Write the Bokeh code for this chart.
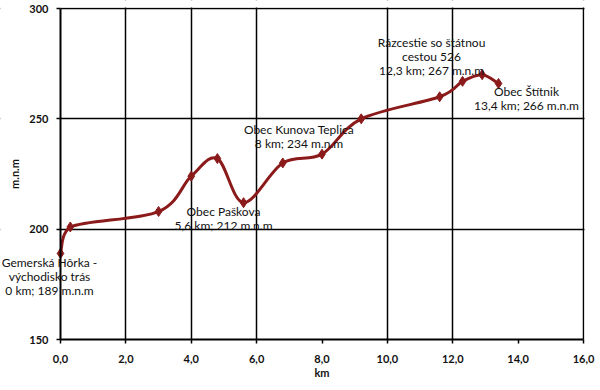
from bokeh.plotting import figure
from bokeh.models import Range1d, Label, FixedTicker, CustomJSTickFormatter, BoxAnnotation
from bokeh.embed import file_html
from bokeh.resources import INLINE

# ---- data ----
km = [0.0, 0.3, 3.0, 4.0, 4.8, 5.6, 6.8, 8.0, 9.2, 11.6, 12.3, 12.9, 13.4]
alt = [189, 201, 208, 224, 232, 212, 230, 234, 250, 260, 267, 270, 266]
x_ticks = [0, 2, 4, 6, 8, 10, 12, 14, 16]
y_ticks = [150, 200, 250, 300]

# annotations: (point index, lines)
notes = [
    (0, ["Gemerská Hôrka -", "východisko trás", "0 km; 189 m.n.m"]),
    (5, ["Obec Paškova", "5,6 km; 212 m.n.m"]),
    (7, ["Obec Kunova Teplica", "8 km; 234 m.n.m"]),
    (10, ["Rázcestie so štátnou", "cestou 526", "12,3 km; 267 m.n.m"]),
    (12, ["Obec Štítnik", "13,4 km; 266 m.n.m"]),
]
# pixel offsets of the first line's centre relative to the point
note_style = {0: (-11, -9), 5: (-20, -9), 7: (-23, 25), 10: (-31, 39), 12: (28, -8)}
LINE_H = 14

FONT = "Lato"
LINE_COLOR = "#8b1a1a"

# layout: plot area 523 x 331 px for 0..16 km, 150..300 m. The frame covers the whole
# figure (so nothing is clipped); the axes are drawn at fixed positions inside it.
W, H = 598, 388
PAD_L, PAD_R, PAD_T, PAD_B = 60, W - 60 - 523, 8, H - 8 - 331
PX_KM = 523 / 16
PX_M = 331 / 150
x_lo, x_hi = min(x_ticks), max(x_ticks)
y_lo, y_hi = min(y_ticks), max(y_ticks)

p = figure(frame_width=W, frame_height=H, output_backend="svg", toolbar_location=None,
           x_range=Range1d(x_lo - PAD_L / PX_KM, x_hi + PAD_R / PX_KM),
           y_range=Range1d(y_lo - PAD_B / PX_M, y_hi + PAD_T / PX_M),
           min_border=0, min_border_left=0, min_border_right=0,
           min_border_top=0, min_border_bottom=0)
p.background_fill_color = "white"
p.border_fill_color = "white"
p.outline_line_color = None

# grids (the reference shows vertical lines only at these positions)
p.xgrid.ticker = FixedTicker(ticks=[2, 4, 6, 10, 12, 16])
p.ygrid.ticker = FixedTicker(ticks=[200, 250, 300])
for g in (p.xgrid, p.ygrid):
    g.grid_line_color = "black"
    g.grid_line_width = 1.5
# keep the grid lines inside the plot area
for kw in (dict(right=x_lo), dict(left=x_hi + 1 / PX_KM),
           dict(top=y_lo), dict(bottom=y_hi + 1 / PX_M)):
    p.add_layout(BoxAnnotation(fill_color="white", fill_alpha=1, line_alpha=0,
                               level="underlay", **kw))

fmt = CustomJSTickFormatter(code="return tick.toFixed(1).replace('.', ',');")
p.xaxis.ticker = FixedTicker(ticks=x_ticks)
p.xaxis.formatter = fmt
p.xaxis.bounds = (x_lo, x_hi)
p.xaxis.fixed_location = y_lo
p.yaxis.ticker = FixedTicker(ticks=y_ticks)
p.yaxis.bounds = (y_lo, y_hi)
p.yaxis.fixed_location = x_lo
for ax in (p.xaxis[0], p.yaxis[0]):
    ax.axis_line_width = 2
    ax.axis_line_color = "black"
    ax.major_tick_line_color = "black"
    ax.major_tick_line_width = 1.5
    ax.major_tick_out = 4
    ax.major_tick_in = 0
    ax.minor_tick_line_color = None
    ax.major_label_text_font = FONT
    ax.major_label_text_font_size = "11px"
    ax.major_label_text_font_style = "bold"
    ax.major_label_text_color = "#111111"
    ax.axis_label_text_font = FONT
    ax.axis_label_text_font_size = "11px"
    ax.axis_label_text_font_style = "bold"
    ax.axis_label_text_color = "#111111"
p.xaxis.axis_label = "km"
p.yaxis.axis_label = "m.n.m"
p.xaxis.major_label_standoff = 11
p.xaxis.axis_label_standoff = 0
p.yaxis.major_label_standoff = 8
p.yaxis.axis_label_standoff = 5

# smoothed line through the points (cubic Bezier segments, x-monotone control points)
n = len(km)
x0, y0, x1, y1, cx0, cy0, cx1, cy1 = ([] for _ in range(8))
for i in range(n - 1):
    pa = (km[max(i - 1, 0)], alt[max(i - 1, 0)])
    pb = (km[i], alt[i])
    pc = (km[i + 1], alt[i + 1])
    pd = (km[min(i + 2, n - 1)], alt[min(i + 2, n - 1)])
    c1x = pb[0] + (pc[0] - pa[0]) / 6
    c1y = pb[1] + (pc[1] - pa[1]) / 6
    c2x = pc[0] - (pd[0] - pb[0]) / 6
    c2y = pc[1] - (pd[1] - pb[1]) / 6
    c1x = min(max(c1x, pb[0]), pc[0])
    c2x = min(max(c2x, pb[0]), pc[0])
    x0.append(pb[0]); y0.append(pb[1]); x1.append(pc[0]); y1.append(pc[1])
    cx0.append(c1x); cy0.append(c1y); cx1.append(c2x); cy1.append(c2y)
p.bezier(x0=x0, y0=y0, x1=x1, y1=y1, cx0=cx0, cy0=cy0, cx1=cx1, cy1=cy1,
         line_color=LINE_COLOR, line_width=3)
p.scatter(km, alt, marker="diamond", size=10, fill_color=LINE_COLOR, line_color=LINE_COLOR)

for idx, lines in notes:
    dx, dy = note_style[idx]
    for j, t in enumerate(lines):
        p.add_layout(Label(x=km[idx], y=alt[idx], x_offset=dx, y_offset=dy - j * LINE_H,
                           text=t, text_align="center", text_baseline="middle",
                           text_font=FONT, text_font_size="12px", text_color="#111111"))

open("out.html", "w").write(file_html(p, INLINE))
